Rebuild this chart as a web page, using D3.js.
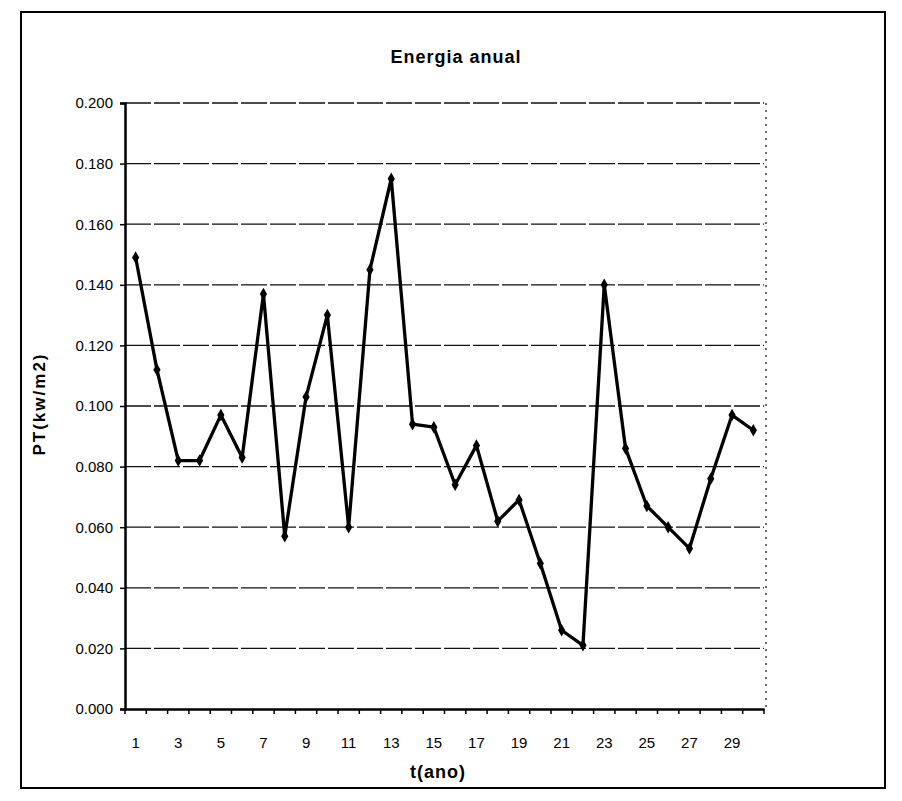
<!DOCTYPE html>
<html><head><meta charset="utf-8">
<script src="https://cdn.jsdelivr.net/npm/d3@7"></script>
<style>
html,body{margin:0;padding:0;background:#fff;}
svg{display:block;font-family:"Liberation Sans",Arial,sans-serif;}
</style></head>
<body>
<svg id="chart" width="902" height="801"></svg>
<script>
const title = "Energia anual";
const xTitle = "t(ano)";
const yTitle = "PT(kw/m2)";
const years = d3.range(1, 31);
const values = [0.149,0.112,0.082,0.082,0.097,0.083,0.137,0.057,0.103,0.130,
                0.060,0.145,0.175,0.094,0.093,0.074,0.087,0.062,0.069,0.048,
                0.026,0.021,0.140,0.086,0.067,0.060,0.053,0.076,0.097,0.092];
const yTicks = [0,0.02,0.04,0.06,0.08,0.1,0.12,0.14,0.16,0.18,0.2];
const xLabelYears = years.filter(d => d % 2 === 1);

(function(){
const svg = d3.select("#chart");
const mLeft = 125, mRight = 764, mTop = 103, mBottom = 709;

// outer frame
svg.append("rect").attr("x",21).attr("y",12).attr("width",864).attr("height",776)
  .attr("fill","none").attr("stroke","#000").attr("stroke-width",2);

const x = d3.scaleBand().domain(years).range([mLeft, mRight]).padding(0);
const y = d3.scaleLinear().domain([0, 0.2]).range([mBottom, mTop]);

// gridlines
svg.append("g").selectAll("line").data(yTicks.filter(d => d > 0)).join("line")
  .attr("x1", mLeft).attr("x2", mRight)
  .attr("y1", d => y(d)).attr("y2", d => y(d))
  .attr("stroke","#111").attr("stroke-width",1.3)
  .attr("stroke-dasharray","26,3");

// right dotted border of plot area
svg.append("line").attr("x1", mRight+2).attr("x2", mRight+2).attr("y1", mTop).attr("y2", mBottom)
  .attr("stroke","#222").attr("stroke-width",1.3).attr("stroke-dasharray","2,5");

// y axis
const yAxis = svg.append("g").attr("transform", `translate(${mLeft},0)`)
  .call(d3.axisLeft(y).tickValues(yTicks).tickFormat(d3.format(".3f")).tickSize(5).tickPadding(7));
yAxis.select(".domain").attr("stroke","#000").attr("stroke-width",2.5);
yAxis.selectAll(".tick line").attr("stroke","#000").attr("stroke-width",1.5);
yAxis.selectAll("text").attr("font-size",15).attr("fill","#000");

// x axis
const xAxis = svg.append("g").attr("transform", `translate(0,${mBottom})`)
  .call(d3.axisBottom(x).tickValues(xLabelYears).tickSize(0).tickPadding(28));
xAxis.select(".domain").attr("stroke","#000").attr("stroke-width",2.5);
xAxis.selectAll("text").attr("font-size",15).attr("fill","#000");
// boundary tick marks
svg.append("g").selectAll("line").data(years.concat([31])).join("line")
  .attr("x1", d => d <= 30 ? x(d) : x(30) + x.bandwidth())
  .attr("x2", d => d <= 30 ? x(d) : x(30) + x.bandwidth())
  .attr("y1", mBottom).attr("y2", mBottom + 5)
  .attr("stroke","#000").attr("stroke-width",1.5);

// line
const line = d3.line().x((d,i) => x(years[i]) + x.bandwidth()/2).y(d => y(d));
svg.append("path").datum(values).attr("d", line)
  .attr("fill","none").attr("stroke","#000").attr("stroke-width",3.3).attr("stroke-linejoin","round");

// markers (diamonds)
svg.append("g").selectAll("path").data(values).join("path")
  .attr("d", d3.symbol().type(d3.symbolDiamond).size(45))
  .attr("transform", (d,i) => `translate(${x(years[i]) + x.bandwidth()/2},${y(d)})`)
  .attr("fill","#000");

// titles
svg.append("text").attr("x", 456).attr("y", 63).attr("text-anchor","middle")
  .attr("font-size",18).attr("font-weight","bold").attr("letter-spacing",1).text(title);
svg.append("text").attr("x", 438).attr("y", 778).attr("text-anchor","middle")
  .attr("font-size",18).attr("font-weight","bold").attr("letter-spacing",1).text(xTitle);
svg.append("text").attr("transform","translate(45,404) rotate(-90)").attr("text-anchor","middle")
  .attr("font-size",17).attr("font-weight","bold").attr("letter-spacing",2).text(yTitle);
})();
</script>
</body></html>
